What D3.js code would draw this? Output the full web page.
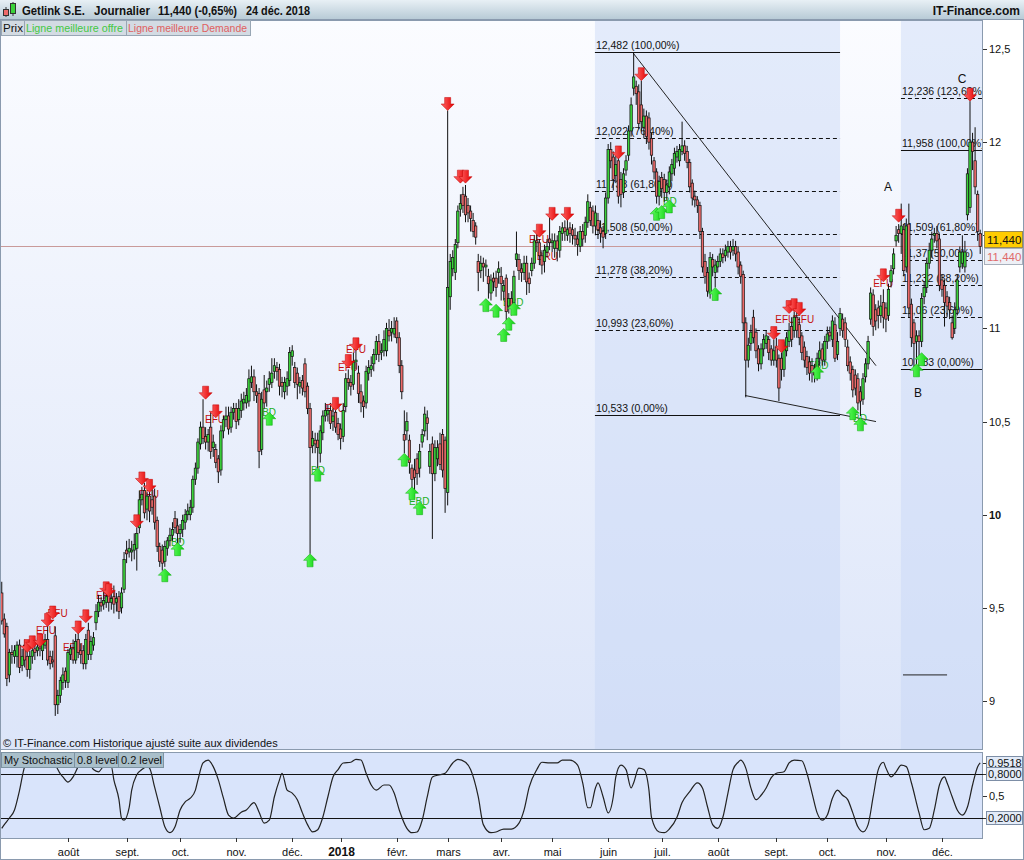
<!DOCTYPE html>
<html><head><meta charset="utf-8">
<script src="https://cdn.jsdelivr.net/npm/d3@7"></script>
<style>
html,body{margin:0;padding:0;background:#fff;}
svg{display:block;font-family:"Liberation Sans",Arial,sans-serif;}
</style></head><body>
<svg id="chart" width="1024" height="860"></svg>
<script>
// ---------- DATA (daily candles, 26 juin 2017 -> 24 déc. 2018) ----------
const openP = [
9.58,9.44,9.40,9.14,9.26,9.24,9.24,9.30,9.19,9.30,
9.24,9.17,9.24,9.28,9.27,9.29,9.27,9.30,9.33,9.24,
9.22,9.35,8.98,9.03,9.10,9.16,9.10,9.25,9.28,9.22,
9.33,9.27,9.27,9.20,9.38,9.25,9.30,9.42,9.48,9.53,
9.52,9.53,9.57,9.53,9.56,9.53,9.56,9.50,9.60,9.81,
9.80,9.80,9.81,9.82,9.93,10.08,10.13,10.03,10.10,10.08,
10.10,9.97,9.83,9.81,9.75,9.82,9.86,9.89,9.98,9.94,
9.90,9.92,9.96,10.00,10.00,10.04,10.19,10.25,10.38,10.47,
10.42,10.39,10.47,10.36,10.35,10.30,10.24,10.45,10.51,10.53,
10.47,10.55,10.57,10.51,10.56,10.60,10.60,10.61,10.71,10.74,
10.66,10.65,10.35,10.67,10.66,10.70,10.71,10.77,10.79,10.78,
10.71,10.66,10.69,10.72,10.85,10.79,10.76,10.69,10.72,10.81,
10.69,10.57,10.37,10.40,10.40,10.33,10.44,10.53,10.54,10.56,
10.50,10.55,10.49,10.46,10.42,10.58,10.73,10.71,10.70,10.82,
10.76,10.66,10.61,10.60,10.76,10.78,10.81,10.86,10.93,10.87,
10.88,10.88,10.99,10.98,10.97,11.04,10.95,10.80,10.43,10.45,
10.40,10.25,10.24,10.30,10.25,10.39,10.45,10.52,10.26,10.38,
10.22,10.30,10.38,10.43,10.40,10.12,11.17,11.32,11.30,11.46,
11.64,11.72,11.71,11.66,11.63,11.58,11.55,11.36,11.31,11.35,
11.33,11.28,11.19,11.27,11.27,11.30,11.28,11.20,11.27,11.12,
11.16,11.14,11.37,11.37,11.32,11.30,11.35,11.27,11.31,11.35,
11.47,11.46,11.39,11.36,11.41,11.48,11.46,11.43,11.47,11.42,
11.51,11.54,11.50,11.54,11.53,11.50,11.48,11.44,11.52,11.50,
11.57,11.65,11.63,11.55,11.58,11.54,11.52,11.51,11.70,11.96,
11.92,11.82,11.90,11.80,11.73,11.85,11.93,12.06,12.29,12.30,
12.27,12.20,12.08,12.14,12.13,12.02,11.90,11.84,11.71,11.81,
11.80,11.73,11.76,11.83,11.86,11.92,11.90,11.95,11.98,11.95,
11.89,11.78,11.71,11.69,11.66,11.52,11.36,11.30,11.19,11.37,
11.30,11.33,11.36,11.40,11.39,11.41,11.44,11.42,11.44,11.41,
11.34,11.29,11.03,10.83,10.92,11.06,10.98,10.89,10.81,10.89,
10.92,10.94,10.89,10.83,10.90,10.84,10.84,10.78,10.88,10.93,
11.01,10.99,11.06,11.02,10.96,10.90,10.85,10.82,10.80,10.78,
10.76,10.84,10.89,10.83,10.93,10.98,10.94,11.02,10.86,11.00,
11.05,11.03,10.90,10.82,10.78,10.75,10.73,10.66,10.62,10.74,
10.81,11.05,11.18,11.10,11.11,11.07,11.14,11.11,11.07,11.25,
11.32,11.47,11.53,11.51,11.53,11.33,11.56,11.13,11.03,10.93,
10.96,10.93,11.17,11.22,11.35,11.42,11.50,11.51,11.48,11.26,
11.23,11.17,11.14,11.03,11.00,11.10,11.33,11.35,11.33,11.61,
11.65,12.00,11.90,11.72,11.51];
const highP = [
9.64,9.47,9.42,9.28,9.30,9.30,9.32,9.33,9.28,9.33,
9.28,9.27,9.31,9.33,9.34,9.33,9.35,9.36,9.40,9.27,
9.27,9.40,9.06,9.13,9.18,9.18,9.28,9.30,9.33,9.36,
9.38,9.31,9.30,9.36,9.42,9.35,9.37,9.52,9.57,9.56,
9.60,9.62,9.62,9.59,9.62,9.58,9.59,9.61,9.80,9.86,
9.87,9.86,9.90,9.93,10.13,10.15,10.17,10.12,10.14,10.14,
10.14,9.99,9.85,9.84,9.86,9.88,9.93,9.96,10.02,9.98,
9.95,10.00,10.03,10.06,10.08,10.21,10.28,10.41,10.50,10.62,
10.47,10.46,10.55,10.43,10.38,10.32,10.48,10.53,10.58,10.58,
10.58,10.60,10.60,10.62,10.65,10.66,10.68,10.78,10.80,10.78,
10.70,10.68,10.66,10.75,10.72,10.77,10.84,10.84,10.82,10.81,
10.74,10.74,10.77,10.90,10.91,10.82,10.79,10.74,10.75,10.84,
10.71,10.60,10.45,10.44,10.44,10.48,10.56,10.60,10.59,10.60,
10.57,10.58,10.52,10.49,10.60,10.76,10.78,10.75,10.87,10.90,
10.80,10.70,10.64,10.80,10.83,10.85,10.89,10.96,10.97,10.92,
10.99,11.03,11.05,11.04,11.06,11.06,10.98,10.83,10.56,10.55,
10.43,10.27,10.30,10.33,10.38,10.46,10.58,10.56,10.38,10.42,
10.40,10.40,10.44,10.46,10.42,12.17,11.40,11.42,11.48,11.66,
11.72,11.76,11.77,11.70,11.66,11.62,11.57,11.40,11.39,11.38,
11.37,11.32,11.29,11.30,11.31,11.36,11.33,11.26,11.29,11.19,
11.20,11.31,11.52,11.40,11.35,11.39,11.39,11.30,11.38,11.50,
11.52,11.48,11.42,11.45,11.48,11.60,11.51,11.51,11.50,11.55,
11.57,11.58,11.61,11.57,11.56,11.54,11.52,11.55,11.56,11.60,
11.72,11.68,11.66,11.66,11.62,11.58,11.55,11.73,11.99,12.00,
11.95,11.93,11.93,11.84,11.86,11.93,12.09,12.24,12.48,12.33,
12.31,12.33,12.18,12.17,12.16,12.05,11.92,11.86,11.82,11.84,
11.83,11.80,11.87,11.91,11.97,11.98,11.99,12.11,12.01,11.98,
11.91,11.80,11.74,11.71,11.68,11.54,11.40,11.33,11.41,11.40,
11.37,11.39,11.43,11.43,11.45,11.47,11.47,11.48,11.47,11.44,
11.36,11.31,11.06,10.95,11.02,11.10,11.00,10.91,10.92,10.97,
10.99,10.96,10.91,10.94,10.95,10.86,10.87,10.93,10.98,11.03,
11.06,11.09,11.09,11.06,10.98,10.93,10.88,10.85,10.84,10.81,
10.87,10.93,10.92,10.96,11.01,11.01,11.07,11.06,10.98,11.11,
11.08,11.06,10.94,10.85,10.80,10.78,10.76,10.69,10.76,10.84,
10.96,11.22,11.21,11.13,11.15,11.18,11.21,11.14,11.24,11.34,
11.43,11.55,11.56,11.67,11.56,11.59,11.67,11.16,11.05,10.99,
10.99,11.19,11.25,11.38,11.46,11.52,11.54,11.55,11.51,11.29,
11.26,11.20,11.17,11.07,11.14,11.29,11.44,11.50,11.47,11.86,
12.22,12.05,12.08,11.74,11.53];
const lowP = [
9.41,9.34,9.08,9.10,9.20,9.20,9.18,9.15,9.16,9.18,
9.13,9.12,9.20,9.22,9.24,9.24,9.22,9.28,9.19,9.17,
9.18,8.92,8.93,8.99,9.06,9.07,9.07,9.22,9.20,9.20,
9.23,9.20,9.17,9.17,9.22,9.22,9.27,9.38,9.45,9.48,
9.49,9.50,9.48,9.49,9.47,9.48,9.44,9.47,9.58,9.74,
9.77,9.75,9.76,9.70,9.90,10.05,9.98,9.97,9.96,10.00,
9.92,9.80,9.72,9.70,9.72,9.78,9.83,9.86,9.90,9.84,
9.85,9.88,9.92,9.97,9.97,10.01,10.16,10.22,10.35,10.38,
10.35,10.34,10.30,10.31,10.25,10.17,10.21,10.41,10.47,10.43,
10.44,10.51,10.46,10.48,10.52,10.56,10.57,10.58,10.68,10.61,
10.60,10.25,10.32,10.57,10.58,10.66,10.68,10.73,10.72,10.64,
10.63,10.62,10.64,10.69,10.80,10.68,10.62,10.65,10.64,10.63,
10.54,9.79,10.33,10.33,10.25,10.28,10.40,10.50,10.50,10.46,
10.45,10.44,10.40,10.35,10.39,10.55,10.67,10.64,10.67,10.78,
10.60,10.55,10.52,10.57,10.72,10.74,10.77,10.83,10.82,10.83,
10.85,10.85,10.93,10.93,10.95,10.92,10.76,10.62,10.33,10.40,
10.22,10.09,10.12,10.16,10.20,10.36,10.42,10.40,10.22,9.87,
10.18,10.26,10.24,10.20,10.01,10.05,11.10,11.28,11.26,11.43,
11.60,11.62,11.57,11.57,11.52,11.49,11.45,11.20,11.27,11.25,
11.28,11.16,11.15,11.20,11.17,11.24,11.15,11.15,11.02,11.08,
11.07,11.12,11.33,11.26,11.25,11.26,11.18,11.19,11.28,11.32,
11.41,11.34,11.29,11.30,11.38,11.42,11.41,11.38,11.36,11.38,
11.47,11.47,11.47,11.46,11.45,11.44,11.39,11.41,11.44,11.46,
11.54,11.55,11.51,11.50,11.48,11.46,11.43,11.48,11.67,11.86,
11.74,11.78,11.67,11.65,11.70,11.82,11.90,12.03,12.25,12.20,
12.07,12.06,12.02,11.99,11.96,11.88,11.80,11.67,11.66,11.70,
11.68,11.69,11.72,11.79,11.82,11.89,11.87,11.93,11.90,11.86,
11.73,11.66,11.65,11.62,11.48,11.30,11.24,11.17,11.16,11.28,
11.22,11.30,11.33,11.35,11.36,11.38,11.37,11.39,11.36,11.29,
11.24,10.99,10.63,10.79,10.88,10.92,10.84,10.77,10.78,10.85,
10.89,10.83,10.80,10.80,10.79,10.61,10.72,10.74,10.85,10.90,
10.90,10.95,10.95,10.91,10.83,10.79,10.75,10.72,10.71,10.71,
10.72,10.80,10.80,10.80,10.89,10.93,10.90,10.82,10.83,10.96,
10.95,10.90,10.77,10.72,10.63,10.64,10.56,10.53,10.59,10.71,
10.78,11.02,10.96,10.99,11.00,11.03,11.00,10.98,11.04,11.22,
11.29,11.44,11.46,11.40,11.28,11.30,11.06,10.90,10.78,10.80,
10.84,10.90,11.13,11.19,11.32,11.38,11.46,11.43,11.20,11.17,
11.01,11.06,11.05,10.94,10.97,11.07,11.30,11.32,11.30,11.58,
11.62,11.85,11.72,11.47,11.40];
const closeP = [
9.43,9.36,9.12,9.26,9.25,9.27,9.30,9.18,9.24,9.22,
9.17,9.24,9.27,9.26,9.29,9.28,9.32,9.33,9.22,9.20,
9.21,8.98,9.03,9.11,9.14,9.11,9.26,9.28,9.22,9.32,
9.26,9.25,9.20,9.33,9.25,9.32,9.34,9.48,9.53,9.51,
9.54,9.56,9.53,9.55,9.52,9.55,9.48,9.58,9.76,9.79,
9.82,9.81,9.84,9.90,10.08,10.11,10.01,10.10,10.02,10.04,
9.96,9.83,9.75,9.74,9.83,9.86,9.89,9.92,9.93,9.90,
9.92,9.97,10.00,10.02,10.04,10.19,10.25,10.39,10.47,10.41,
10.39,10.43,10.34,10.39,10.28,10.23,10.45,10.51,10.53,10.46,
10.55,10.57,10.50,10.57,10.61,10.62,10.64,10.73,10.74,10.66,
10.64,10.34,10.62,10.60,10.68,10.73,10.76,10.80,10.77,10.69,
10.69,10.71,10.73,10.87,10.88,10.71,10.70,10.71,10.68,10.66,
10.57,10.36,10.41,10.38,10.36,10.45,10.53,10.56,10.56,10.49,
10.53,10.47,10.43,10.41,10.56,10.73,10.71,10.69,10.82,10.83,
10.65,10.60,10.58,10.77,10.79,10.80,10.86,10.93,10.86,10.88,
10.94,11.00,10.96,11.00,11.00,10.95,10.80,10.66,10.40,10.50,
10.28,10.19,10.20,10.22,10.34,10.43,10.54,10.49,10.34,10.22,
10.36,10.36,10.27,10.24,10.14,11.22,11.36,11.38,11.45,11.63,
11.67,11.66,11.61,11.62,11.59,11.52,11.49,11.30,11.35,11.33,
11.34,11.24,11.26,11.25,11.22,11.32,11.24,11.23,11.09,11.16,
11.12,11.28,11.40,11.31,11.30,11.35,11.25,11.24,11.35,11.47,
11.46,11.39,11.34,11.42,11.44,11.46,11.47,11.47,11.43,11.52,
11.54,11.52,11.53,11.51,11.50,11.48,11.45,11.52,11.48,11.57,
11.68,11.58,11.55,11.62,11.53,11.51,11.49,11.70,11.96,11.90,
11.80,11.88,11.71,11.72,11.83,11.90,12.06,12.20,12.35,12.26,
12.10,12.11,12.14,12.03,12.00,11.93,11.84,11.71,11.79,11.75,
11.73,11.77,11.84,11.88,11.94,11.95,11.96,11.98,11.94,11.89,
11.76,11.70,11.69,11.66,11.52,11.33,11.28,11.20,11.38,11.33,
11.34,11.36,11.40,11.38,11.42,11.44,11.41,11.44,11.40,11.33,
11.28,11.03,10.83,10.91,10.98,10.95,10.88,10.81,10.89,10.94,
10.96,10.87,10.83,10.88,10.83,10.68,10.78,10.90,10.95,10.99,
10.94,11.06,10.99,10.95,10.87,10.83,10.79,10.76,10.77,10.75,
10.84,10.88,10.83,10.93,10.97,10.96,11.04,10.84,10.93,11.08,
10.99,10.94,10.80,10.76,10.67,10.68,10.60,10.61,10.73,10.81,
10.93,11.19,11.01,11.04,11.07,11.12,11.06,11.05,11.21,11.31,
11.40,11.50,11.51,11.55,11.31,11.55,11.11,10.95,10.92,10.96,
10.93,11.16,11.22,11.35,11.42,11.48,11.51,11.47,11.23,11.21,
11.14,11.12,11.10,10.95,11.10,11.26,11.41,11.41,11.41,11.83,
12.00,11.95,11.76,11.52,11.44];

// Stochastic (read at candle index positions)
const stochIdx = [0,1,3,5,7,9,11,14,18,21,23,24,26,28,30,32,34,36,38,40,43,44,46,47,48,50,51,53,55,57,58,60,62,64,66,68,70,72,74,76,77,79,81,83,85,87,89,91,94,96,99,101,103,105,107,109,110,112,114,116,118,120,122,124,126,128,130,132,134,137,139,141,143,145,147,150,152,154,156,159,161,163,165,167,169,172,174,177,179,182,184,187,189,192,194,197,200,203,205,207,210,212,215,218,220,223,226,228,230,231,233,234,236,238,240,241,243,245,247,248,250,252,254,255,258,260,262,265,267,270,273,275,277,279,281,283,285,287,289,290,292,294,296,298,300,302,304,307,309,311,314,316,318,320,322,324,326,328,330,332,334,336,338,340,342,344,346,347,349,351,353,355,357,360,362,364,366,368,370,371,373,375,377,379,381,383,384];
const stochVal = [0.06,0.11,0.20,0.31,0.58,0.90,0.98,1.00,0.98,0.92,0.80,0.76,0.69,0.76,0.90,0.98,0.97,0.86,0.83,0.90,0.90,0.72,0.45,0.20,0.17,0.34,0.58,0.79,0.86,0.90,0.88,0.62,0.35,0.08,0.00,0.08,0.31,0.42,0.47,0.58,0.72,0.95,0.99,0.90,0.72,0.47,0.24,0.20,0.28,0.31,0.41,0.28,0.13,0.17,0.49,0.72,0.81,0.58,0.54,0.45,0.27,0.11,0.01,0.04,0.21,0.49,0.76,0.86,0.95,0.96,1.00,0.99,0.81,0.65,0.58,0.65,0.65,0.54,0.31,0.06,0.00,0.01,0.17,0.49,0.76,0.79,0.81,0.95,1.00,0.96,0.86,0.49,0.11,0.00,0.01,0.05,0.05,0.13,0.31,0.62,0.86,0.96,0.95,0.95,0.99,0.99,0.92,0.68,0.34,0.34,0.61,0.68,0.49,0.27,0.49,0.76,0.92,0.86,0.61,0.68,0.88,0.86,0.58,0.21,0.01,0.00,0.05,0.21,0.41,0.56,0.68,0.61,0.35,0.11,0.06,0.21,0.54,0.86,0.96,0.99,0.88,0.61,0.45,0.51,0.61,0.75,0.81,0.83,0.95,0.99,0.98,0.81,0.54,0.27,0.17,0.24,0.47,0.58,0.51,0.45,0.27,0.08,0.01,0.11,0.49,0.86,0.96,0.88,0.76,0.83,0.92,0.90,0.68,0.27,0.04,0.06,0.31,0.65,0.76,0.68,0.49,0.31,0.24,0.35,0.65,0.90,0.9518];
const stochLevels = [0.8, 0.2];
const stochLabelVals = [0.9518, 0.8, 0.2];
const stochLabelTexts = ["0,9518", "0,8000", "0,2000"];

// Axis ticks ("11,5" is hidden behind the price boxes in the original)
const yTickVals = [9, 9.5, 10, 10.5, 11, 12, 12.5];
const yTickLabels = ["9", "9,5", "10", "10,5", "11", "12", "12,5"];
const monthNames = ["2018", "févr.", "mars", "avr.", "mai", "juin", "juil.", "août", "sept.", "oct.", "nov.", "déc."];
const holidays = ["2017-12-25", "2017-12-26", "2018-01-01", "2018-03-30", "2018-04-02", "2018-05-01"];

// Fibonacci retracements
const fib1Range = [232.8, 329];
const fib1Levels = [12.482, 12.022, 11.738, 11.508, 11.278, 10.993, 10.533];
const fib1Labels = ["12,482 (100,00%)", "12,022 (76,40%)", "11,738 (61,80%)", "11,508 (50,00%)", "11,278 (38,20%)", "10,993 (23,60%)", "10,533 (0,00%)"];
const fib1Solid = [true, false, false, false, false, false, true];
const fib2Range = [352.9, 392];
const fib2Levels = [12.236, 11.958, 11.509, 11.37, 11.232, 11.06, 10.783];
const fib2Labels = ["12,236 (123,60%)", "11,958 (100,00%)", "11,509 (61,80%)", "11,37 (50,00%)", "11,232 (38,20%)", "11,06 (23,60%)", "10,783 (0,00%)"];
const fib2Solid = [false, true, false, false, false, false, true];

// Drawn lines: [idx1, price1, idx2, price2]
const trendLines = [[247.7, 12.48, 343.1, 10.80], [291.7, 10.64, 343.1, 10.50], [353.7, 9.14, 371, 9.14]];
const waveLabels = ["A", "B", "C"];
const waveIdx = [347.8, 359.6, 376.9];
const wavePrice = [11.74, 10.63, 12.32];

// Signals
const redArrowIdx = [10,12,15,18,20,30,33,41,42,53,55,58,80,84,131,136,139,175,180,182,211,216,222,242,251,303,306,309,311,313,346,352,380];
const redArrowPrice = [9.26,9.28,9.29,9.40,9.44,9.36,9.42,9.57,9.56,9.93,10.16,10.12,10.62,10.52,10.56,10.79,10.88,12.17,11.78,11.78,11.49,11.58,11.58,11.91,12.33,10.94,10.87,11.08,11.09,11.07,11.25,11.57,12.22];
const greenArrowIdx = [64,69,105,121,124,158,161,164,190,194,197,199,201,257,259,262,280,320,334,337,359,361];
const greenArrowPrice = [9.71,9.85,10.55,9.79,10.25,10.33,10.15,10.07,11.16,11.13,11.00,11.06,11.14,11.65,11.66,11.69,11.22,10.80,10.58,10.52,10.81,10.87];
const sigText = ["EFU","EFU","EFU","EFU","EFU","EFU","EFU","EFU","EFU","EFU","BRU","EFU","EFU","EFU","BD","BD","BD","EBD","BBD","BD","EBD","BD"];
const sigIdx = [13.4,18,24,37,53.9,79.8,126.9,132,135.1,206.9,210,303.6,311,342,66.4,102.2,121.4,159.8,196.7,259.5,316.4,334.1];
const sigPrice = [9.36,9.45,9.27,9.55,10.09,10.49,10.55,10.77,10.87,11.46,11.37,11.03,11.03,11.22,9.83,10.53,10.22,10.05,11.12,11.66,10.78,10.50];

const lastPrice = 11.44;
const titleParts = ["Getlink S.E.", "Journalier", "11,440 (-0,65%)", "24 déc. 2018"];

// ---------- DRAWING ----------
const n = Math.min(openP.length, highP.length, lowP.length, closeP.length);
const svg = d3.select("#chart");
const L = 0, R = 983, T = 20, B = 749, ST = 752, SB = 838;

const x = d3.scaleLinear().domain([0, 384]).range([1.75, 980.2]);
const y = d3.scaleLinear().domain([9, 12.5]).range([701, 49]);
const ys = d3.scaleLinear().domain([0, 1]).range([832.7, 759.3]);

// trading calendar
const hol = new Set(holidays);
const dates = [];
for (let d = new Date(Date.UTC(2017, 5, 26)); dates.length < n; d.setUTCDate(d.getUTCDate() + 1)) {
  const wd = d.getUTCDay();
  const s = d.toISOString().slice(0, 10);
  if (wd === 0 || wd === 6 || hol.has(s)) continue;
  dates.push(new Date(d.getTime()));
}

const defs = svg.append("defs");
const g1 = defs.append("linearGradient").attr("id", "bgMain").attr("x1", 0).attr("y1", 0).attr("x2", 0).attr("y2", 1);
g1.append("stop").attr("offset", "0%").attr("stop-color", "#fbfcff");
g1.append("stop").attr("offset", "100%").attr("stop-color", "#dce5f9");
const g2 = defs.append("linearGradient").attr("id", "bgTitle").attr("x1", 0).attr("y1", 0).attr("x2", 0).attr("y2", 1);
g2.append("stop").attr("offset", "0%").attr("stop-color", "#e8f0f5");
g2.append("stop").attr("offset", "100%").attr("stop-color", "#b6c9d5");
const gr = defs.append("linearGradient").attr("id", "arRed").attr("x1", 0).attr("y1", 0).attr("x2", 1).attr("y2", 0);
gr.append("stop").attr("offset", "0%").attr("stop-color", "#ff6a6a");
gr.append("stop").attr("offset", "100%").attr("stop-color", "#e40000");
const gg = defs.append("linearGradient").attr("id", "arGreen").attr("x1", 0).attr("y1", 0).attr("x2", 1).attr("y2", 0);
gg.append("stop").attr("offset", "0%").attr("stop-color", "#66ff66");
gg.append("stop").attr("offset", "100%").attr("stop-color", "#10d010");
defs.append("clipPath").attr("id", "clipMain").append("rect").attr("x", L).attr("y", T).attr("width", R - L).attr("height", B - T);
defs.append("clipPath").attr("id", "clipStoch").append("rect").attr("x", L).attr("y", ST).attr("width", R - L).attr("height", SB - ST);

svg.append("rect").attr("width", 1024).attr("height", 860).attr("fill", "#ffffff");

// main background
svg.append("rect").attr("x", L).attr("y", T).attr("width", R - L).attr("height", B - T).attr("fill", "url(#bgMain)");
const plot = svg.append("g").attr("clip-path", "url(#clipMain)");

// fib shading
[fib1Range, fib2Range].forEach(r => {
  plot.append("rect").attr("x", x(r[0])).attr("y", T).attr("width", x(r[1]) - x(r[0])).attr("height", B - T)
    .attr("fill", "#c3d3f6").attr("opacity", 0.42);
});

// fib lines + labels
function drawFib(range, levels, labels, solid) {
  levels.forEach((lv, k) => {
    plot.append("line").attr("x1", x(range[0])).attr("x2", x(range[1])).attr("y1", Math.round(y(lv)) + 0.5).attr("y2", Math.round(y(lv)) + 0.5)
      .attr("stroke", "#111").attr("stroke-width", 1).attr("stroke-dasharray", solid[k] ? null : "4,3");
    plot.append("text").attr("x", x(range[0]) + 1).attr("y", y(lv) - 3).attr("font-size", 10.5).attr("fill", "#111").text(labels[k]);
  });
}
drawFib(fib1Range, fib1Levels, fib1Labels, fib1Solid);
drawFib(fib2Range, fib2Levels, fib2Labels, fib2Solid);

// last price horizontal line
plot.append("line").attr("x1", L).attr("x2", R).attr("y1", Math.round(y(lastPrice)) + 0.5).attr("y2", Math.round(y(lastPrice)) + 0.5)
  .attr("stroke", "#c99a9a").attr("stroke-width", 1);

// trend lines
plot.selectAll("line.trend").data(trendLines).enter().append("line").attr("class", "trend")
  .attr("x1", d => x(d[0])).attr("y1", d => y(d[1])).attr("x2", d => x(d[2])).attr("y2", d => y(d[3]))
  .attr("stroke", "#222").attr("stroke-width", 1);

// wave labels
plot.selectAll("text.wave").data(waveLabels).enter().append("text").attr("class", "wave")
  .attr("x", (d, k) => x(waveIdx[k])).attr("y", (d, k) => y(wavePrice[k])).attr("text-anchor", "middle")
  .attr("font-size", 12).attr("fill", "#111").text(d => d);

// signal labels (under arrows)
plot.selectAll("text.sig").data(sigText).enter().append("text").attr("class", "sig")
  .attr("x", (d, k) => x(sigIdx[k])).attr("y", (d, k) => y(sigPrice[k]))
  .attr("font-size", 10).attr("fill", d => (d === "EFU" || d === "BRU") ? "#c41010" : "#22b022")
  .text(d => d);

// candles
const idx = d3.range(n);
const cg = plot.append("g");
cg.selectAll("line.wick").data(idx).enter().append("line").attr("class", "wick")
  .attr("x1", i => x(i)).attr("x2", i => x(i)).attr("y1", i => y(highP[i])).attr("y2", i => y(lowP[i]))
  .attr("stroke", "#111").attr("stroke-width", 1);
cg.selectAll("rect.body").data(idx).enter().append("rect").attr("class", "body")
  .attr("x", i => x(i) - 1.2).attr("width", 2.4)
  .attr("y", i => y(Math.max(openP[i], closeP[i])))
  .attr("height", i => Math.max(0.8, y(Math.min(openP[i], closeP[i])) - y(Math.max(openP[i], closeP[i]))))
  .attr("fill", i => closeP[i] >= openP[i] ? "#3bd23b" : "#ec6a6a")
  .attr("stroke", "#111").attr("stroke-width", 0.7);

// arrows
const redPath = "M-3,-13 L3,-13 L3,-6.5 L6.5,-6.5 L0,0 L-6.5,-6.5 L-3,-6.5 Z";
const greenPath = "M-3,13 L3,13 L3,6.5 L6.5,6.5 L0,0 L-6.5,6.5 L-3,6.5 Z";
plot.selectAll("path.ar").data(redArrowIdx).enter().append("path").attr("class", "ar").attr("d", redPath)
  .attr("transform", (d, k) => `translate(${x(d)},${y(redArrowPrice[k])})`)
  .attr("fill", "url(#arRed)").attr("stroke", "#c00000").attr("stroke-width", 0.5);
plot.selectAll("path.ag").data(greenArrowIdx).enter().append("path").attr("class", "ag").attr("d", greenPath)
  .attr("transform", (d, k) => `translate(${x(d)},${y(greenArrowPrice[k])})`)
  .attr("fill", "url(#arGreen)").attr("stroke", "#08a808").attr("stroke-width", 0.5);

// copyright
svg.append("text").attr("x", 3).attr("y", 747).attr("font-size", 11).attr("fill", "#111")
  .text("\u00A9 IT-Finance.com  Historique ajusté suite aux dividendes");

// main frame
svg.append("rect").attr("x", L + 0.5).attr("y", T + 0.5).attr("width", R - L - 1).attr("height", B - T).attr("fill", "none").attr("stroke", "#8a9aae");

// right axis
const ya = svg.append("g");
ya.append("line").attr("x1", R).attr("x2", R + 4).attr("y1", Math.round(y(11.5)) + 0.5).attr("y2", Math.round(y(11.5)) + 0.5).attr("stroke", "#333");
yTickVals.forEach((v, k) => {
  ya.append("line").attr("x1", R).attr("x2", R + 4).attr("y1", Math.round(y(v)) + 0.5).attr("y2", Math.round(y(v)) + 0.5).attr("stroke", "#333");
  ya.append("text").attr("x", R + 6).attr("y", y(v) + 4).attr("font-size", 11).attr("font-weight", v === 10 ? "bold" : "normal")
    .attr("fill", "#111").text(yTickLabels[k]);
});
// price boxes
const py = y(lastPrice);
const lastTxt = d3.format(".3f")(lastPrice).replace(".", ",");
ya.append("rect").attr("x", R + 1.5).attr("y", Math.round(py) - 14.5).attr("width", 38).attr("height", 16).attr("fill", "#ffcc00").attr("stroke", "#9a8a50");
ya.append("text").attr("x", R + 4).attr("y", Math.round(py) - 2).attr("font-size", 11.5).attr("fill", "#111").text(lastTxt);
ya.append("rect").attr("x", R + 1.5).attr("y", Math.round(py) + 2.5).attr("width", 38).attr("height", 16).attr("fill", "#eef0f6").attr("stroke", "#a8b0bc");
ya.append("text").attr("x", R + 4).attr("y", Math.round(py) + 15).attr("font-size", 11.5).attr("fill", "#e06a6a").text(lastTxt);

// ---------- STOCHASTIC PANEL ----------
svg.append("rect").attr("x", L + 0.5).attr("y", ST + 0.5).attr("width", R - L - 1).attr("height", SB - ST).attr("fill", "#d9e4fb").attr("stroke", "#8a9aae");
const sp = svg.append("g").attr("clip-path", "url(#clipStoch)");
stochLevels.forEach(v => {
  sp.append("line").attr("x1", L).attr("x2", R).attr("y1", Math.round(ys(v)) + 0.5).attr("y2", Math.round(ys(v)) + 0.5).attr("stroke", "#111");
});
const pts = stochIdx.map((d, k) => [d, stochVal[k]]);
sp.append("path").attr("d", d3.line().x(d => x(d[0])).y(d => ys(d[1])).curve(d3.curveMonotoneX)(pts))
  .attr("fill", "none").attr("stroke", "#222").attr("stroke-width", 1.2);

// stoch legend
const sLeg = [["My Stochastic", 1, 73], ["0.8 level", 74, 44], ["0.2 level", 118, 45]];
sLeg.forEach(s => {
  svg.append("rect").attr("x", s[1] + 0.5).attr("y", ST + 0.5).attr("width", s[2]).attr("height", 15).attr("fill", "#a9bfca").attr("stroke", "#7d93a2");
  svg.append("text").attr("x", s[1] + 3).attr("y", ST + 12).attr("font-size", 11).attr("fill", "#111").text(s[0]);
});

// stoch right labels
svg.append("line").attr("x1", R).attr("x2", R + 4).attr("y1", Math.round(ys(0.5)) + 0.5).attr("y2", Math.round(ys(0.5)) + 0.5).attr("stroke", "#333");
svg.append("text").attr("x", R + 6).attr("y", ys(0.5) + 4).attr("font-size", 11).attr("fill", "#111").text("0,5");
stochLabelVals.forEach((v, k) => {
  const cy = Math.round(ys(v));
  svg.append("line").attr("x1", R).attr("x2", R + 4).attr("y1", cy + 0.5).attr("y2", cy + 0.5).attr("stroke", "#333");
  svg.append("rect").attr("x", R + 3.5).attr("y", cy - 6.5).attr("width", 36).attr("height", 13).attr("fill", "#e3ebf8").attr("stroke", "#7d8ea6");
  svg.append("text").attr("x", R + 5).attr("y", cy + 4).attr("font-size", 11).attr("fill", "#111").text(stochLabelTexts[k]);
});

// ---------- X AXIS ----------
const monthStarts = [];
for (let i = 20; i < n; i++) {
  if (dates[i].getUTCMonth() !== dates[i - 1].getUTCMonth()) monthStarts.push(i);
}
const monthFull = ["janv.", "févr.", "mars", "avr.", "mai", "juin", "juil.", "août", "sept.", "oct.", "nov.", "déc."];
monthStarts.forEach(i => {
  const m = dates[i].getUTCMonth();
  const label = m === 0 ? monthNames[0] : monthFull[m];
  const xx = Math.round(x(i)) + 0.5;
  svg.append("line").attr("x1", xx).attr("x2", xx).attr("y1", SB).attr("y2", SB + 4).attr("stroke", "#333");
  svg.append("text").attr("x", xx).attr("y", 856).attr("text-anchor", "middle").attr("font-size", m === 0 ? 12 : 11)
    .attr("font-weight", m === 0 ? "bold" : "normal").attr("fill", "#111").text(label);
});
svg.append("line").attr("x1", 0).attr("x2", 1024).attr("y1", 859.5).attr("y2", 859.5).attr("stroke", "#8a9aae");
svg.append("line").attr("x1", 0.5).attr("x2", 0.5).attr("y1", 0).attr("y2", 860).attr("stroke", "#8a9aae");
svg.append("line").attr("x1", 1023.5).attr("x2", 1023.5).attr("y1", 0).attr("y2", 860).attr("stroke", "#8a9aae");

// ---------- TITLE BAR ----------
svg.append("rect").attr("x", 0).attr("y", 0).attr("width", 1024).attr("height", 20).attr("fill", "url(#bgTitle)");
svg.append("line").attr("x1", 0).attr("x2", 1024).attr("y1", 19.5).attr("y2", 19.5).attr("stroke", "#8a9aae");
// icon
svg.append("line").attr("x1", 6).attr("x2", 6).attr("y1", 7).attr("y2", 17).attr("stroke", "#333");
svg.append("rect").attr("x", 3.5).attr("y", 9.5).attr("width", 5).attr("height", 6).attr("fill", "#ee6a6a").attr("stroke", "#333");
svg.append("line").attr("x1", 13).attr("x2", 13).attr("y1", 2).attr("y2", 16).attr("stroke", "#333");
svg.append("rect").attr("x", 10.5).attr("y", 3.5).attr("width", 5).attr("height", 10).attr("fill", "#3bd23b").attr("stroke", "#333");
const tx = [22, 94, 158, 246];
const tw = [63, 56, 79, 64];
titleParts.forEach((t, k) => {
  svg.append("text").attr("x", tx[k]).attr("y", 15).attr("font-size", 12).attr("font-weight", "bold").attr("fill", "#111")
    .attr("textLength", tw[k]).attr("lengthAdjust", "spacingAndGlyphs").text(t);
});
svg.append("text").attr("x", 1020).attr("y", 15).attr("text-anchor", "end").attr("font-size", 12).attr("font-weight", "bold").attr("fill", "#111").text("IT-Finance.com");

// legend row
const leg = [["Prix", 1, 23, "#111", 20], ["Ligne meilleure offre", 24, 102, "#44c844", 97], ["Ligne meilleure Demande", 126, 124, "#e06060", 119]];
leg.forEach(l => {
  svg.append("rect").attr("x", l[1] + 0.5).attr("y", 20.5).attr("width", l[2]).attr("height", 15).attr("fill", "#d3dbe3").attr("stroke", "#98a6b4");
  svg.append("text").attr("x", l[1] + 2).attr("y", 32).attr("font-size", 11).attr("fill", l[3])
    .attr("textLength", l[4]).attr("lengthAdjust", "spacingAndGlyphs").text(l[0]);
});
</script>
</body></html>
